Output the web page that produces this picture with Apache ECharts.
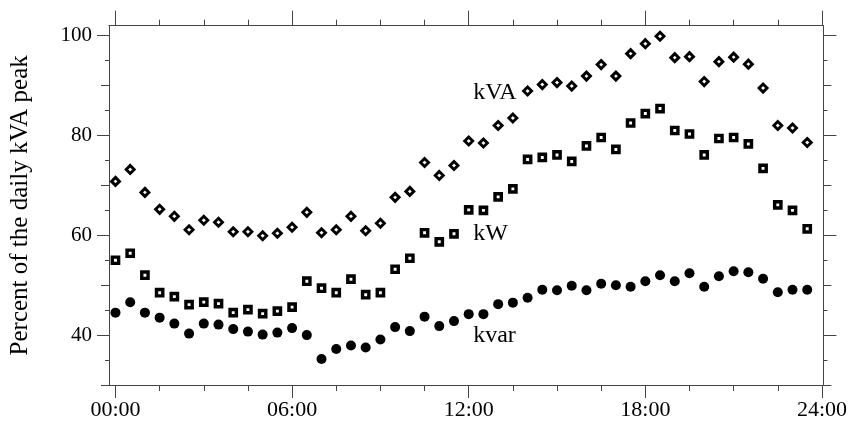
<!DOCTYPE html>
<html>
<head>
<meta charset="utf-8">
<script src="https://cdn.jsdelivr.net/npm/echarts@6/dist/echarts.min.js"></script>
<style>
html,body{margin:0;padding:0;background:#fff;}
#chart{width:850px;height:426px;}
</style>
</head>
<body>
<div id="chart"></div>
<script>
// ---- data ----
const times = ["00:00","00:30","01:00","01:30","02:00","02:30","03:00","03:30","04:00","04:30","05:00","05:30",
               "06:00","06:30","07:00","07:30","08:00","08:30","09:00","09:30","10:00","10:30","11:00","11:30",
               "12:00","12:30","13:00","13:30","14:00","14:30","15:00","15:30","16:00","16:30","17:00","17:30",
               "18:00","18:30","19:00","19:30","20:00","20:30","21:00","21:30","22:00","22:30","23:00","23:30"];
const kva  = [70.8,73.2,68.6,65.2,63.8,61.1,63.0,62.6,60.7,60.7,59.9,60.4,
              61.6,64.6,60.5,61.1,63.8,60.9,62.4,67.6,68.8,74.6,72.0,74.0,
              78.9,78.5,82.0,83.5,88.9,90.2,90.6,89.9,91.9,94.2,91.9,96.4,
              98.4,99.9,95.6,95.8,90.8,94.8,95.7,94.3,89.5,82.0,81.5,78.6];
const kw   = [55.0,56.4,52.0,48.5,47.7,46.1,46.6,46.3,44.5,45.1,44.3,44.8,
              45.6,50.8,49.4,48.5,51.2,48.1,48.5,53.2,55.4,60.5,58.7,60.3,
              65.1,65.0,67.7,69.3,75.2,75.6,76.1,74.8,77.9,79.6,77.2,82.5,
              84.4,85.4,81.0,80.3,76.1,79.4,79.6,78.3,73.4,66.1,65.0,61.3];
const kvar = [44.5,46.6,44.5,43.5,42.3,40.3,42.3,42.1,41.2,40.7,40.1,40.5,
              41.4,40.0,35.2,37.2,37.9,37.5,39.1,41.6,40.8,43.7,41.8,42.8,
              44.2,44.2,46.2,46.5,47.5,49.1,49.0,49.9,49.0,50.3,50.0,49.7,
              50.8,52.0,50.8,52.4,49.7,51.8,52.8,52.6,51.3,48.6,49.1,49.1];
const xTickLabels = ["00:00","06:00","12:00","18:00","24:00"];
const yTickLabels = [40, 60, 80, 100];
const seriesNames = ["kVA", "kW", "kvar"];
const yTitle = "Percent of the daily kVA peak";

// ---- helpers ----
const toHours = s => { const p = s.split(":"); return +p[0] + (+p[1]) / 60; };
const xs = times.map(toHours);
const pairs = vals => vals.map((v, i) => [xs[i], v]);
const xMajor = xTickLabels.map(toHours);
const xMinor = [];
for (let h = 1.5; h < 24; h += 1.5) { if (h % 6 !== 0) xMinor.push(h); }
const yMajor = yTickLabels.slice();
const yMed = [30, 50, 70, 90];
const yMinor = [35, 45, 55, 65, 75, 85, 95];

const FONT = "Liberation Serif";
const lineCol = "#444";
const txtCol = "#000";
const XMIN = -0.22, XMAX = 24.05, YMIN = 30, YMAX = 102;

function xAx(pos, vals, len, showLine, showLabel) {
  return {
    type: "value", position: pos, min: XMIN, max: XMAX,
    axisLine: { show: showLine, onZero: false, lineStyle: { color: lineCol, width: 1 } },
    axisTick: { show: true, inside: false, length: len, customValues: vals, lineStyle: { color: lineCol, width: 1 } },
    axisLabel: showLabel ? {
      show: true, customValues: xMajor, margin: 14,
      formatter: v => { const h = Math.round(v); return (h < 10 ? "0" : "") + h + ":00"; },
      fontFamily: FONT, fontSize: 22, color: txtCol
    } : { show: false },
    splitLine: { show: false }
  };
}
function yAx(pos, vals, len, showLine, showLabel, name) {
  const a = {
    type: "value", position: pos, min: YMIN, max: YMAX,
    axisLine: { show: showLine, onZero: false, lineStyle: { color: lineCol, width: 1 } },
    axisTick: { show: true, inside: false, length: len, customValues: vals, lineStyle: { color: lineCol, width: 1 } },
    axisLabel: showLabel ? {
      show: true, customValues: yMajor, margin: 17,
      fontFamily: FONT, fontSize: 21, color: txtCol
    } : { show: false },
    splitLine: { show: false }
  };
  if (name) {
    a.name = name; a.nameLocation = "middle"; a.nameRotate = 90; a.nameGap = 76;
    a.nameTextStyle = { fontFamily: FONT, fontSize: 25, color: txtCol };
  }
  return a;
}

const labelPos = { kVA: [12.15, 88.5], kW: [12.15, 60.4], kvar: [12.15, 39.9] };

const option = {
  backgroundColor: "#fff",
  animation: false,
  grid: { left: 108.3, right: 25.7, top: 25.7, bottom: 41 },
  xAxis: [
    xAx("bottom", xMajor, 13, true, true),
    xAx("bottom", xMinor, 6, false, false),
    xAx("top", xMajor, 15, true, false),
    xAx("top", xMinor, 6, false, false)
  ],
  yAxis: [
    yAx("left", yMajor, 12, true, true, yTitle),
    yAx("left", yMed, 8, false, false),
    yAx("left", yMinor, 4, false, false),
    yAx("right", yMajor, 13, true, false),
    yAx("right", yMed, 8, false, false),
    yAx("right", yMinor, 4, false, false)
  ],
  series: [
    { name: seriesNames[0], type: "scatter", data: pairs(kva), symbol: "diamond", symbolSize: 8,
      itemStyle: { color: "#fff", borderColor: "#000", borderWidth: 2.9, opacity: 1 } },
    { name: seriesNames[1], type: "scatter", data: pairs(kw), symbol: "rect", symbolSize: 6.3,
      itemStyle: { color: "#fff", borderColor: "#000", borderWidth: 3.4, opacity: 1 } },
    { name: seriesNames[2], type: "scatter", data: pairs(kvar), symbol: "circle", symbolSize: 10,
      itemStyle: { color: "#000", opacity: 1 } },
    { type: "scatter", symbolSize: 0, silent: true,
      itemStyle: { opacity: 1 },
      data: seriesNames.map(n => ({ value: labelPos[n], name: n })),
      label: { show: true, position: [0, 0], align: "left", verticalAlign: "middle", opacity: 1,
               formatter: p => p.name, fontFamily: FONT, fontSize: 24, color: txtCol } }
  ]
};

const chart = echarts.init(document.getElementById("chart"), null, { renderer: "canvas" });
chart.setOption(option);
</script>
</body>
</html>
